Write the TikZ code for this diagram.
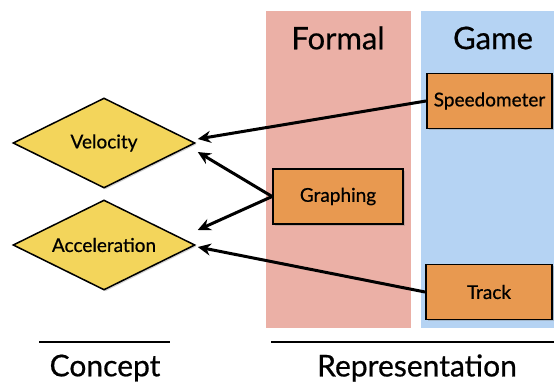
\documentclass[tikz,border=0pt]{standalone}
\usepackage{fontspec}
\setmainfont{Lato}[FakeBold=0.6]
\usetikzlibrary{shapes.geometric,arrows.meta,shadows}
\definecolor{formalbg}{RGB}{235,176,166}
\definecolor{gamebg}{RGB}{181,211,243}
\definecolor{repfill}{RGB}{232,153,80}
\definecolor{conceptfill}{RGB}{243,213,91}
\tikzset{
  softshadow/.style={drop shadow={opacity=0.35,shadow xshift=1.5pt,shadow yshift=-1.5pt}},
  concept/.style={diamond,aspect=2,draw,line width=1.5pt,fill=conceptfill,minimum width=182pt,
    minimum height=90pt,inner sep=0pt,font=\fontsize{19}{22}\selectfont,softshadow},
  repbox/.style={rectangle,draw,line width=1.8pt,fill=repfill,minimum height=55pt,
    font=\fontsize{19}{22}\selectfont,softshadow},
  link/.style={-{Stealth[length=13pt,width=12pt]},line width=3pt},
  colhead/.style={font=\fontsize{31}{36}\selectfont},
}
\begin{document}
\begin{tikzpicture}[x=1pt,y=-1pt]
\useasboundingbox (0,0) rectangle (554,383);
% columns
\fill[formalbg] (266,11) rectangle (411,328);
\fill[gamebg] (421,11) rectangle (554,328);
\node[colhead] (formal) at (338,38) {Formal};
\node[colhead] (game) at (493,38) {Game};
% representations
\node[repbox,minimum width=125pt] (speedo) at (489.5,101) {Speedometer};
\node[repbox,minimum width=130pt] (graph) at (338,196.5) {Graphing};
\node[repbox,minimum width=126pt] (track) at (489,292) {Track};
% concepts
\node[concept] (velo) at (104,143) {Velocity};
\node[concept] (accel) at (104,245) {Acceleration};
\draw[link] (speedo.west) -- ([xshift=2pt,yshift=4pt]velo.east);
\draw[link] (graph.west) -- ([xshift=2pt,yshift=-9pt]velo.east);
\draw[link] (graph.west) -- ([xshift=2pt,yshift=15pt]accel.east);
\draw[link] (track.west) -- ([xshift=2pt,yshift=-2pt]accel.east);
% bottom labels
\draw[line width=2pt] (39,342) -- (170,342);
\draw[line width=2pt] (271,342) -- (554,342);
\node[colhead,font=\fontsize{30}{34}\selectfont] (concept) at (105,368) {Concept};
\node[colhead,font=\fontsize{30}{34}\selectfont] (rep) at (417,368) {Representation};
\end{tikzpicture}
\end{document}
